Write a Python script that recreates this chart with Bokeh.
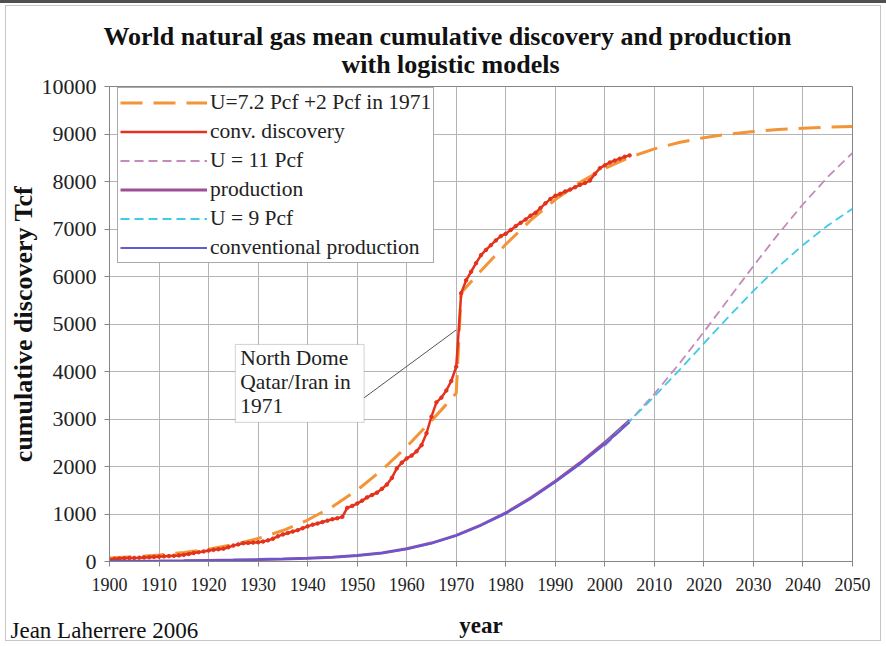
from bokeh.plotting import figure
from bokeh.models import (Range1d, SingleIntervalTicker, Legend, LegendItem,
                          Label, BoxAnnotation, Title)
from bokeh.embed import file_html
from bokeh.resources import INLINE

# Cumulative conventional gas discoveries (Tcf), one value per year
disc_years = list(range(1900, 2006))
disc_tcf = [
    40, 55, 62, 68, 72, 76, 80, 85, 90, 96,                # 1900-1909
    102, 108, 114, 120, 128, 140, 158, 178, 196, 212,      # 1910-1919
    230, 245, 258, 270, 300, 335, 360, 385, 392, 398,      # 1920-1929
    405, 420, 445, 480, 530, 570, 600, 630, 660, 700,      # 1930-1939
    740, 775, 800, 830, 860, 890, 910, 940, 1130, 1170,    # 1940-1949
    1220, 1280, 1350, 1400, 1450, 1530, 1620, 1760, 1960, 2080,  # 1950-1959
    2170, 2230, 2320, 2450, 2700, 3050, 3350, 3450, 3600, 3800,  # 1960-1969
    4100, 5650, 5920, 6100, 6280, 6450, 6560, 6660, 6760, 6850,  # 1970-1979
    6900, 6980, 7060, 7130, 7200, 7280, 7340, 7440, 7540, 7630,  # 1980-1989
    7700, 7740, 7790, 7830, 7880, 7930, 7970, 8020, 8160, 8280,  # 1990-1999
    8340, 8400, 8440, 8480, 8520, 8550,                          # 2000-2005
]

# Logistic discovery model: U = 7.2 Pcf, plus 2 Pcf added in 1971
fit_years = [1900, 1905, 1910, 1915, 1920, 1925, 1930, 1935, 1940, 1945,
             1950, 1955, 1960, 1965, 1968, 1970, 1971, 1972, 1975, 1980,
             1985, 1990, 1995, 2000, 2005, 2010, 2015, 2020, 2025, 2030,
             2035, 2040, 2045, 2050]
fit_tcf = [73, 101, 138, 190, 261, 356, 484, 652, 873, 1153,
           1503, 1926, 2417, 2963, 3308, 3542, 5658, 5776, 6123, 6678,
           7180, 7618, 7983, 8277, 8509, 8687, 8822, 8923, 8998, 9053,
           9093, 9122, 9144, 9159]

# Cumulative production, history
prod_years = [1900, 1905, 1910, 1915, 1920, 1925, 1930, 1935, 1940, 1945,
              1950, 1955, 1960, 1965, 1970, 1975, 1980, 1985, 1990, 1995,
              2000, 2005]
prod_total = [3, 6, 10, 15, 22, 30, 40, 52, 68, 92,
              125, 181, 267, 388, 550, 768, 1022, 1336, 1692, 2078,
              2505, 2970]
prod_conv = [3, 6, 10, 15, 22, 30, 40, 52, 68, 92,
             125, 180, 265, 385, 545, 760, 1010, 1320, 1670, 2050,
             2470, 2930]

# Logistic production models, 2000-2050
model_years = [2000, 2005, 2010, 2015, 2020, 2025, 2030, 2035, 2040, 2045, 2050]
u11_tcf = [2436, 2950, 3529, 4160, 4835, 5528, 6222, 6892, 7521, 8094, 8603]
u9_tcf = [2478, 2955, 3475, 4025, 4591, 5153, 5696, 6203, 6664, 7073, 7427]

# Callout for the North Dome discovery
note_lines = ["North Dome", "Qatar/Iran in", "1971"]

FONT = "Liberation Serif"
W, H = 886, 646
LEFT, RIGHT, TOP, BOTTOM = 109, 34, 86, 85
FRAME_H = H - TOP - BOTTOM

p = figure(width=W, height=H, output_backend="svg", toolbar_location=None,
           x_range=Range1d(1900, 2050), y_range=Range1d(0, 10000),
           min_border_left=LEFT, min_border_right=RIGHT,
           min_border_top=TOP, min_border_bottom=BOTTOM,
           background_fill_color="white", border_fill_color=None)
# page frame: thin grey inset rule and a dark strip along the top edge
p.styles = {"outline": "1px solid #c6c6c6", "outline-offset": "-6px",
            "box-shadow": "inset 0 3px 0 #505050",
            "background-color": "white"}

p.outline_line_color = "#858585"
p.outline_line_width = 1

for ax in (p.xaxis[0], p.yaxis[0]):
    ax.axis_line_color = "#858585"
    ax.major_tick_line_color = "#858585"
    ax.major_tick_out = 5
    ax.major_tick_in = 0
    ax.minor_tick_line_color = None
    ax.major_label_text_font = FONT
    ax.major_label_text_color = "#222222"
    ax.axis_label_text_font = FONT
    ax.axis_label_text_font_style = "bold"
    ax.axis_label_text_color = "#111111"

p.xaxis.ticker = SingleIntervalTicker(interval=10)
p.yaxis.ticker = SingleIntervalTicker(interval=1000)
p.xaxis.major_label_text_font_size = "18px"
p.yaxis.major_label_text_font_size = "22px"
p.xaxis.major_label_standoff = 11
p.yaxis.major_label_standoff = 8
p.xaxis.axis_label = "year"
p.xaxis.axis_label_text_font_size = "23px"
p.xaxis.axis_label_standoff = 19
p.yaxis.axis_label = "cumulative discovery Tcf"
p.yaxis.axis_label_text_font_size = "26px"
p.yaxis.axis_label_standoff = 1

p.xgrid.grid_line_color = "#b4b4b4"
p.ygrid.grid_line_color = "#b4b4b4"
p.xgrid.ticker = SingleIntervalTicker(interval=10)
p.ygrid.ticker = SingleIntervalTicker(interval=1000)

# Series
r_fit = p.line(fit_years, fit_tcf, line_color="#F39436", line_width=3,
               line_dash="22 11")
r_disc = p.line(disc_years, disc_tcf, line_color="#E4321C", line_width=2.5)
p.scatter(disc_years, disc_tcf, size=3.5, marker="circle",
          fill_color="#E4321C", line_color="#E4321C")
r_u11 = p.line(model_years, u11_tcf, line_color="#C48ABA", line_width=1.8,
               line_dash="9 5")
r_prod = p.line(prod_years, prod_total, line_color="#9E4F93", line_width=3)
r_u9 = p.line(model_years, u9_tcf, line_color="#3CCCE8", line_width=1.8,
              line_dash="9 5")
r_conv = p.line(prod_years, prod_conv, line_color="#6258D8", line_width=2)

# Callout box and leader line to the 1970-71 jump
i70 = disc_years.index(1970)
jump_y = (disc_tcf[i70] + disc_tcf[i70 + 1]) / 2
box = BoxAnnotation(left=1925.4, right=1951.4, bottom=2930, top=4570,
                    fill_color="white", fill_alpha=1.0,
                    line_color="#6a6a6a", line_width=1, level="overlay")
p.add_layout(box)
p.segment(x0=[1951.4], y0=[3446], x1=[1970.0], y1=[jump_y],
          line_color="#555555", line_width=1)
for k, txt in enumerate(note_lines):
    p.add_layout(Label(x=1926.4, y=4290 - k * 505, text=txt,
                       text_font=FONT, text_font_size="21.5px",
                       text_color="#222222", text_baseline="middle",
                       text_align="left", level="overlay"))

legend = Legend(items=[
    LegendItem(label="U=7.2 Pcf +2 Pcf in 1971", renderers=[r_fit]),
    LegendItem(label="conv. discovery", renderers=[r_disc]),
    LegendItem(label="U = 11 Pcf", renderers=[r_u11]),
    LegendItem(label="production", renderers=[r_prod]),
    LegendItem(label="U = 9 Pcf", renderers=[r_u9]),
    LegendItem(label="conventional production", renderers=[r_conv]),
], location=(8, FRAME_H - 174 - 3))
legend.label_text_font = FONT
legend.label_text_font_size = "21.5px"
legend.label_text_color = "#222222"
legend.glyph_width = 87
legend.glyph_height = 25
legend.label_height = 25
legend.label_standoff = 3
legend.spacing = 4
legend.padding = 2
legend.margin = 0
legend.border_line_color = "#555555"
legend.border_line_width = 1
legend.background_fill_color = "white"
legend.background_fill_alpha = 1.0
p.add_layout(legend)


def set_standoff(t, s):
    try:
        t.standoff = s
    except Exception:
        t.standoff = 0


# Two-line title above the frame (nearest line added first)
t2 = Title(text="with logistic models", align="left", offset=232,
           text_font=FONT, text_font_size="26px", text_font_style="bold",
           text_color="#111111", vertical_align="bottom")
set_standoff(t2, 16)
p.add_layout(t2, "above")
t1 = Title(text="World natural gas mean cumulative discovery and production",
           align="left", offset=-6, text_font=FONT, text_font_size="26px",
           text_font_style="bold", text_color="#111111",
           vertical_align="bottom")
set_standoff(t1, -22)
p.add_layout(t1, "above")

# Credit line in the lower left corner, level with the x axis label
credit = Title(text="Jean Laherrere 2006", align="left", offset=-99,
               text_font=FONT, text_font_size="23px", text_font_style="normal",
               text_color="#111111", vertical_align="top")
set_standoff(credit, -45)
p.add_layout(credit, "below")

open("out.html", "w").write(file_html(p, INLINE))
